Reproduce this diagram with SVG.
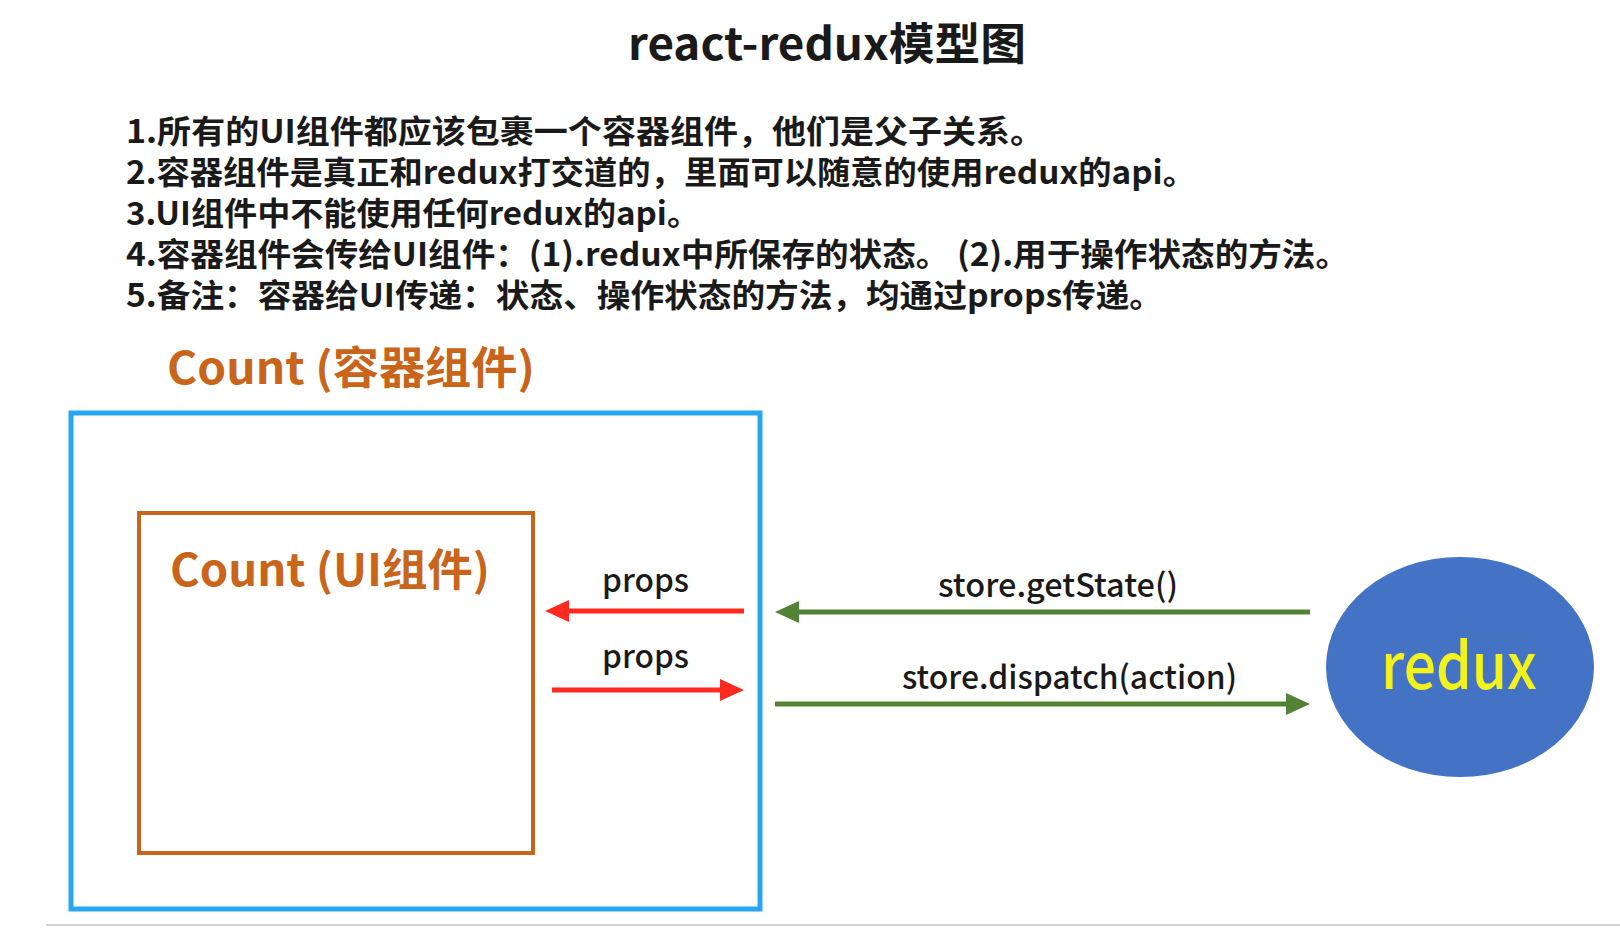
<svg xmlns="http://www.w3.org/2000/svg" width="1620" height="936" viewBox="0 0 1620 936">
<style>
.cjk{font-family:"Noto Sans CJK SC","Liberation Sans",sans-serif;}
.title{font-size:44px;font-weight:700;fill:#1a1a1a;}
.note{font-size:32px;font-weight:700;fill:#1a1a1a;}
.orange{font-size:44px;font-weight:700;fill:#c8651b;}
.lbl{font-size:32px;font-weight:500;fill:#1a1a1a;}
.redux{font-size:64px;font-weight:500;fill:#f2f21c;}
.red{stroke:#ff2a1f;stroke-width:5;fill:none;}
.green{stroke:#548235;stroke-width:5;fill:none;}
</style>
<defs>
<marker id="ahRed" markerUnits="userSpaceOnUse" markerWidth="24" markerHeight="22" refX="2" refY="11" orient="auto">
<path d="M0,0 L24,11 L0,22 z" fill="#ff2a1f"/>
</marker>
<marker id="ahGreen" markerUnits="userSpaceOnUse" markerWidth="24" markerHeight="22" refX="2" refY="11" orient="auto">
<path d="M0,0 L24,11 L0,22 z" fill="#548235"/>
</marker>
</defs>
<rect width="1620" height="936" fill="#ffffff"/>
<text class="cjk title" x="628" y="60" textLength="398" lengthAdjust="spacingAndGlyphs">react-redux模型图</text>
<g id="notes">
<text class="cjk note" x="126" y="143" textLength="918" lengthAdjust="spacingAndGlyphs">1.所有的UI组件都应该包裹一个容器组件，他们是父子关系。</text>
<text class="cjk note" x="126" y="184" textLength="1070" lengthAdjust="spacingAndGlyphs">2.容器组件是真正和redux打交道的，里面可以随意的使用redux的api。</text>
<text class="cjk note" x="126" y="225" textLength="574" lengthAdjust="spacingAndGlyphs">3.UI组件中不能使用任何redux的api。</text>
<text class="cjk note" x="126" y="266" textLength="1223" lengthAdjust="spacingAndGlyphs">4.容器组件会传给UI组件：(1).redux中所保存的状态。 (2).用于操作状态的方法。</text>
<text class="cjk note" x="126" y="307" textLength="1037" lengthAdjust="spacingAndGlyphs">5.备注：容器给UI传递：状态、操作状态的方法，均通过props传递。</text>
</g>
<g id="container">
<text class="cjk orange" x="167" y="384" textLength="368" lengthAdjust="spacingAndGlyphs">Count (容器组件)</text>
<rect x="71" y="413" width="689" height="496" fill="none" stroke="#2aa5f0" stroke-width="5"/>
</g>
<g id="ui">
<rect x="139" y="513" width="394" height="340" fill="none" stroke="#c8651b" stroke-width="4"/>
<text class="cjk orange" x="170" y="586" textLength="320" lengthAdjust="spacingAndGlyphs">Count (UI组件)</text>
</g>
<g id="redux">
<ellipse cx="1460" cy="667" rx="134" ry="110" fill="#4472c4"/>
<text class="cjk redux" x="1381" y="689" textLength="156" lengthAdjust="spacingAndGlyphs">redux</text>
</g>
<g id="connectors">
<line class="red" x1="744" y1="611" x2="567" y2="611" marker-end="url(#ahRed)"/>
<line class="red" x1="552" y1="690" x2="722" y2="690" marker-end="url(#ahRed)"/>
<line class="green" x1="1310" y1="612" x2="797" y2="612" marker-end="url(#ahGreen)"/>
<line class="green" x1="775" y1="704" x2="1288" y2="704" marker-end="url(#ahGreen)"/>
<text class="cjk lbl" x="602" y="592" textLength="87" lengthAdjust="spacingAndGlyphs">props</text>
<text class="cjk lbl" x="602" y="668" textLength="87" lengthAdjust="spacingAndGlyphs">props</text>
<text class="cjk lbl" x="938" y="597" textLength="240" lengthAdjust="spacingAndGlyphs">store.getState()</text>
<text class="cjk lbl" x="902" y="689" textLength="335" lengthAdjust="spacingAndGlyphs">store.dispatch(action)</text>
</g>
<line x1="46" y1="925" x2="1620" y2="925" stroke="#d0d0d0" stroke-width="2"/>
</svg>
